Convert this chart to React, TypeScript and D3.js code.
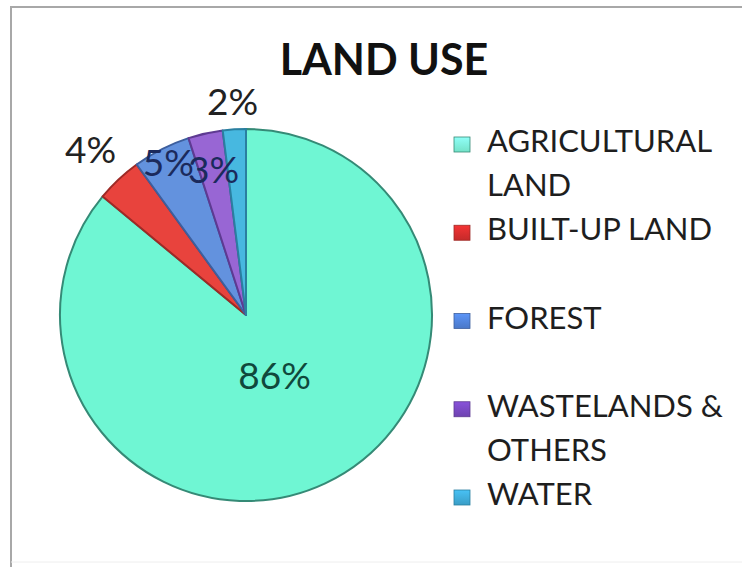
import React from 'react';
import * as d3 from 'd3';

// chart data
const categories = ['AGRICULTURAL LAND', 'BUILT-UP LAND', 'FOREST', 'WASTELANDS & OTHERS', 'WATER'];
const shares = [86, 4, 5, 3, 2];
const legendLines = [['AGRICULTURAL', 'LAND'], ['BUILT-UP LAND'], ['FOREST'], ['WASTELANDS &', 'OTHERS'], ['WATER']];
const title = 'LAND USE';

const fills = ['#6ff6d3', '#e8433d', '#6392de', '#9866d4', '#47b8e0'];
const edges = ['#358a76', '#9e2a26', '#3d5f9e', '#5e3a92', '#2a7fa0'];
const keyFills = ['#74e2c8', '#c52a2a', '#4a78c8', '#6e42b0', '#3a9dc6'];
const labelInk = ['#10483c', '#222', '#1b2a5c', '#1b2a5c', '#222'];
// radius factor for each percent label (Excel "best fit")
const labelRadius = [0.36, 1.22, 0.92, 0.8, 1.15];

const W = 742;
const H = 567;
const cx = 246;
const cy = 315;
const R = 186;

export default function App() {
  const pie = d3.pie<number>().sort(null).value(d => d);
  const arcs = pie(shares);
  const arc = d3.arc<d3.PieArcDatum<number>>().innerRadius(0).outerRadius(R);

  const legendY = d3.scalePoint<string>().domain(categories).range([152, 505]);

  return (
    <svg width={W} height={H} style={{ position: 'absolute', left: 0, top: 0, background: '#fff' }}
      fontFamily="Lato, 'Open Sans', sans-serif">
      <defs>
        {keyFills.map((f, i) => (
          <linearGradient key={i} id={`key${i}`} x1="0" y1="0" x2="0" y2="1">
            <stop offset="0" stopColor={d3.color(f)?.brighter(0.6).formatHex()} />
            <stop offset="1" stopColor={f} />
          </linearGradient>
        ))}
      </defs>
      <rect x={0} y={0} width={W} height={H} fill="#fff" />
      <path d={`M11,${H} L11,7 L${W},7`} fill="none" stroke="#a8a8a8" strokeWidth={2} />
      <line x1={11} x2={W} y1={562} y2={562} stroke="#eeeeee" strokeWidth={1} />

      <text x={384} y={75} textAnchor="middle" fontSize={43} fontWeight={700} fill="#111">{title}</text>

      <g transform={`translate(${cx},${cy})`}>
        {arcs.map((a, i) => (
          <path key={categories[i]} d={arc(a) ?? ''} fill={fills[i]} stroke={edges[i]} strokeWidth={2}
            strokeLinejoin="round" />
        ))}
        {arcs.map((a, i) => {
          const mid = (a.startAngle + a.endAngle) / 2;
          const r = R * labelRadius[i];
          return (
            <text key={categories[i]} x={Math.sin(mid) * r} y={-Math.cos(mid) * r} dy="0.36em"
              textAnchor="middle" fontSize={37} fill={labelInk[i]}>
              {`${shares[i]}%`}
            </text>
          );
        })}
      </g>

      <g>
        {categories.map((c, i) => {
          const y = legendY(c) ?? 0;
          return (
            <g key={c}>
              <rect x={454} y={y - 15} width={16} height={15} fill={`url(#key${i})`} stroke={edges[i]} strokeWidth={0.8} />
              <text x={487} y={y} fontSize={31} fill="#1e1e1e">
                {legendLines[i].map((l, j) => (
                  <tspan key={j} x={487} dy={j === 0 ? 0 : 44}>{l}</tspan>
                ))}
              </text>
            </g>
          );
        })}
      </g>
    </svg>
  );
}
